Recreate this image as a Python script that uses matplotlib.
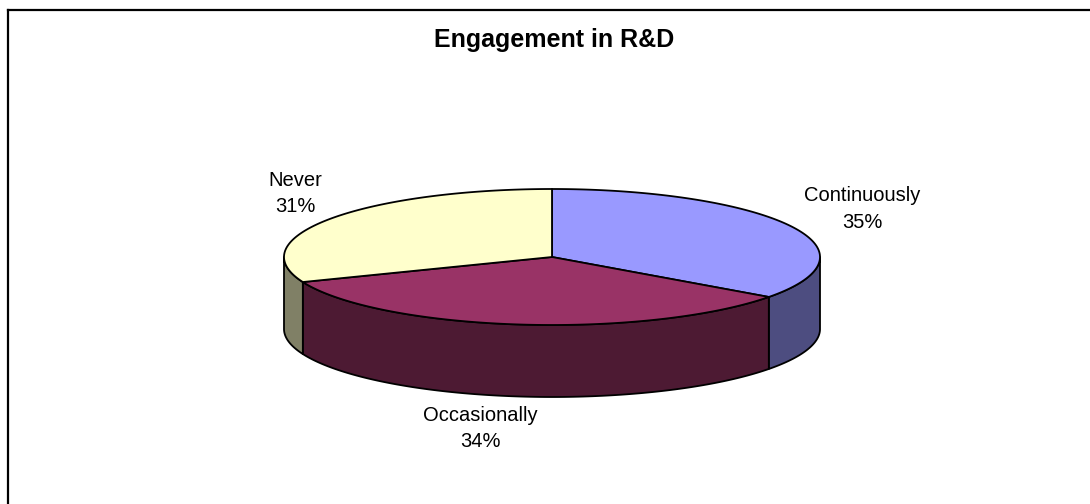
import numpy as np
import matplotlib.pyplot as plt
from matplotlib.patches import Polygon

# Engagement in R&D - 3D style pie
labels = ["Continuously", "Occasionally", "Never"]
shares = [35, 34, 31]
top_colors = ["#9999FF", "#993366", "#FFFFCC"]
side_colors = ["#4D4D80", "#4D1A33", "#808066"]
label_pos = [(862, 209), (480, 428.5), (295, 193.5)]

plt.rcParams['font.family'] = ['Liberation Sans', 'DejaVu Sans']

fig = plt.figure(figsize=(10.9, 5.04), dpi=100)
ax = fig.add_axes([0, 0, 1, 1])
ax.set_xlim(0, 1090)
ax.set_ylim(504, 0)
ax.axis('off')

# pie geometry (pixels)
cx, cy = 552, 257
rx, ry = 268, 68
depth = 72


def rim(t):
    t = np.radians(t)
    return cx + rx * np.cos(t), cy - ry * np.sin(t)


# slice angles, clockwise from 12 o'clock
bounds = [90.0]
for s in shares:
    bounds.append(bounds[-1] - 360.0 * s / sum(shares))

# sides first (only the front half of the rim is visible)
for i in range(len(shares)):
    a0, a1 = bounds[i], bounds[i + 1]
    for k in range(-2, 2):
        lo, hi = -180 + 360 * k, 0 + 360 * k
        t0, t1 = min(a0, hi), max(a1, lo)
        if t0 <= t1:
            continue
        t = np.linspace(t0, t1, 120)
        x, y = rim(t)
        pts = np.column_stack([np.r_[x, x[::-1]], np.r_[y, y[::-1] + depth]])
        ax.add_patch(Polygon(pts, closed=True, facecolor=side_colors[i],
                             edgecolor='black', lw=1.3, joinstyle='round'))

# top faces
for i in range(len(shares)):
    t = np.linspace(bounds[i], bounds[i + 1], 200)
    x, y = rim(t)
    pts = np.column_stack([np.r_[cx, x], np.r_[cy, y]])
    ax.add_patch(Polygon(pts, closed=True, facecolor=top_colors[i],
                         edgecolor='black', lw=1.3, joinstyle='round'))

for i in range(len(shares)):
    ax.text(label_pos[i][0], label_pos[i][1], f"{labels[i]}\n{shares[i]}%",
            ha='center', va='center', fontsize=14.5, linespacing=1.5,
            color='black')

ax.text(554, 40, "Engagement in R&D", ha='center', va='center',
        fontsize=18, fontweight='bold')

# chart frame
ax.plot([8, 1100], [9.5, 9.5], color='black', lw=1.6, solid_capstyle='projecting')
ax.plot([8, 8], [9.5, 520], color='black', lw=1.6, solid_capstyle='projecting')

fig.savefig("out.png", dpi=100)
